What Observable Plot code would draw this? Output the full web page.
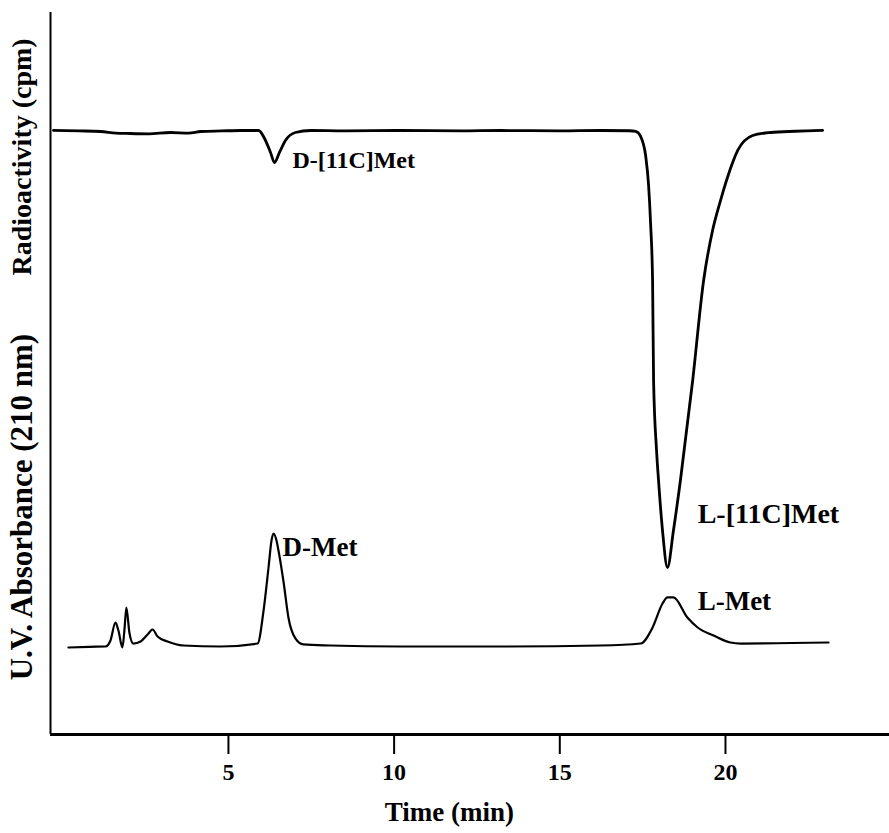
<!DOCTYPE html>
<html>
<head>
<meta charset="utf-8">
<script src="https://cdn.jsdelivr.net/npm/d3@7"></script>
<script src="https://cdn.jsdelivr.net/npm/@observablehq/plot@0.6"></script>
<style>
  html, body { margin: 0; padding: 0; background: #fff; }
</style>
</head>
<body>
<div id="chart"></div>
<script>
// Time (min) vs radioactivity trace (arbitrary units, drawn inverted as in original)
const radioTrace = [
  [-0.28, 83.66], [0.5, 83.6], [1.14, 83.52], [1.6, 83.3], [2.04, 83.24], [2.6, 83.2], [3.25, 83.38],
  [3.8, 83.3], [4.16, 83.52], [4.8, 83.6], [5.36, 83.66], [5.91, 83.66], [6.09, 82.55],
  [6.27, 80.61], [6.39, 79.22], [6.54, 80.61], [6.72, 82.27], [7.02, 83.38], [7.48, 83.66],
  [8.5, 83.6], [10.19, 83.66], [12.0, 83.6], [13.21, 83.66], [15.0, 83.6], [16.23, 83.66],
  [17.1, 83.62], [17.29, 83.52], [17.44, 82.83], [17.59, 80.19], [17.68, 76.04], [17.74, 70.78],
  [17.8, 62.88], [17.83, 49.03], [17.92, 39.34], [17.98, 35.18], [18.1, 28.25], [18.25, 23.13],
  [18.43, 28.25], [18.64, 35.18], [19.01, 49.03], [19.34, 62.88], [19.61, 69.81], [19.85, 73.96],
  [20.06, 77.15], [20.37, 80.89], [20.82, 82.96], [21.36, 83.38], [22.1, 83.55], [22.93, 83.66]
];
// Time (min) vs UV absorbance at 210 nm (arbitrary units)
const uvTrace = [
  [0.17, 12.05], [0.8, 12.15], [1.29, 12.19], [1.44, 13.02], [1.59, 15.51], [1.68, 14.4],
  [1.8, 12.05], [1.86, 14.4], [1.92, 17.59], [2.01, 14.13], [2.13, 12.6], [2.35, 12.88],
  [2.56, 13.85], [2.71, 14.54], [2.86, 13.57], [3.16, 12.88], [3.64, 12.33], [4.76, 12.19],
  [5.88, 12.6], [6.06, 17.17], [6.21, 23.13], [6.3, 26.87], [6.36, 27.84], [6.45, 26.87],
  [6.51, 25.48], [6.67, 20.91], [6.81, 16.2], [7.02, 13.3], [7.26, 12.47], [8.08, 12.33],
  [10.19, 12.19], [13.21, 12.19], [16.23, 12.33], [17.44, 12.6], [17.8, 14.82], [18.1, 18.14],
  [18.25, 18.98], [18.43, 18.98], [18.85, 16.2], [19.16, 14.82], [19.64, 13.71], [20.15, 12.74],
  [20.46, 12.6], [23.11, 12.74]
];
// Peak labels: text, time, level, size
const peakLabels = ["D-[11C]Met", "L-[11C]Met", "D-Met", "L-Met"];
const peakTimes = [6.93, 19.16, 6.63, 19.16];
const peakLevels = [79.5, 30.6, 25.9, 18.4];
const peakSizes = [24, 28, 27, 27];
const xTicks = [5, 10, 15, 20];
const yTitles = ["Radioactivity (cpm)", "U.V. Absorbance (210 nm)"];
const yTitleLevels = [80, 31.5];
const yTitleSizes = [28, 31];
const xTitle = "Time (min)";

const xDomain = [-0.37, 24.95];
const rad = radioTrace.map(([t, v]) => ({t, v}));
const uv = uvTrace.map(([t, v]) => ({t, v}));
const labels = peakLabels.map((name, i) => ({name, t: peakTimes[i], v: peakLevels[i], s: peakSizes[i]}));
const ytitles = yTitles.map((name, i) => ({name, v: yTitleLevels[i], s: yTitleSizes[i]}));

const chart = Plot.plot({
  width: 889,
  height: 833,
  marginLeft: 50,
  marginRight: 0,
  marginTop: 12,
  marginBottom: 99,
  style: {fontFamily: "'Liberation Serif', 'Times New Roman', serif", fontWeight: "bold", background: "#fff", color: "#000"},
  x: {domain: xDomain},
  y: {domain: [0, 100], axis: null},
  marks: [
    Plot.ruleX([xDomain[0]], {stroke: "#000", strokeWidth: 2}),
    Plot.ruleY([0], {stroke: "#000", strokeWidth: 2.8}),
    Plot.axisX({ticks: xTicks, tickSize: 20, tickPadding: 8, fontSize: 24, fontWeight: "bold", label: null, stroke: "#000", strokeWidth: 2}),
    Plot.line(rad, {x: "t", y: "v", stroke: "#000", strokeWidth: 2.8, curve: "monotone-x"}),
    Plot.line(uv, {x: "t", y: "v", stroke: "#000", strokeWidth: 2.2, curve: "monotone-x"}),
    ...labels.map(d => Plot.text([d], {x: "t", y: "v", text: "name", textAnchor: "start", fontSize: d.s, fontWeight: "bold", fill: "#000"})),
    ...ytitles.map(d => Plot.text([d], {y: "v", text: "name", frameAnchor: "left", textAnchor: "middle", lineAnchor: "middle", dx: -28, rotate: -90, fontSize: d.s, fontWeight: "bold", fill: "#000"})),
    Plot.text([xTitle], {frameAnchor: "bottom", x: 11.67, dy: 78, lineAnchor: "middle", fontSize: 27, fontWeight: "bold", fill: "#000", letterSpacing: 1})
  ]
});
document.getElementById("chart").appendChild(chart);
</script>
</body>
</html>
